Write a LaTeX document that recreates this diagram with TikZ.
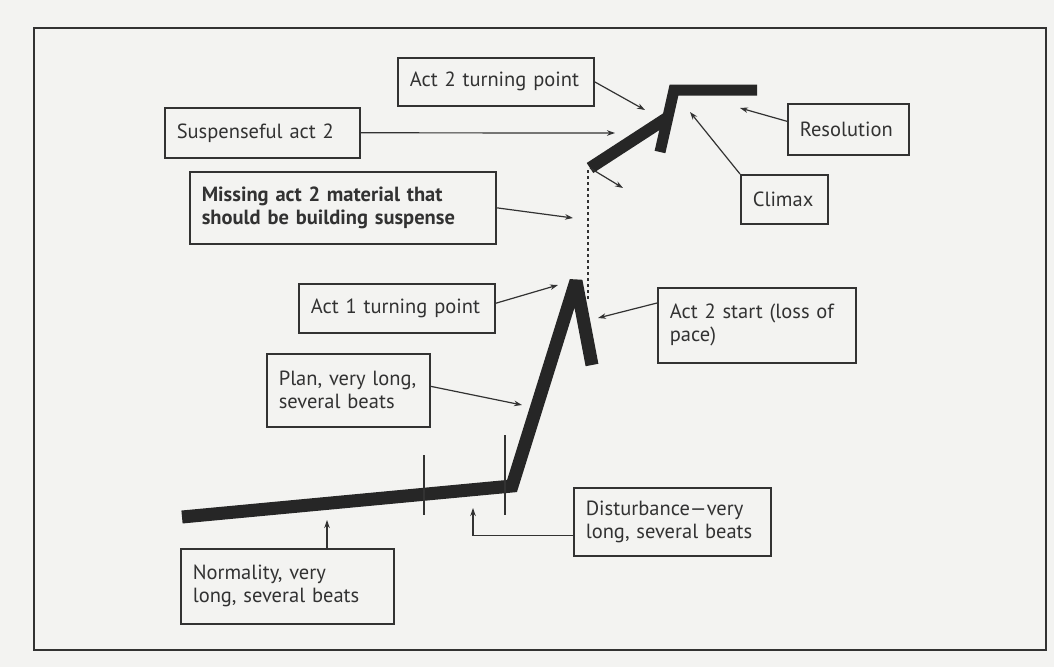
\documentclass[tikz,border=0pt]{standalone}
\usepackage{fontspec}
\setmainfont{PT Sans}
\usepackage{tikz}
\usetikzlibrary{arrows.meta,calc}

\definecolor{paper}{RGB}{243,243,241}
\definecolor{ink}{RGB}{50,50,50}

\begin{document}
\begin{tikzpicture}[x=1pt,y=-1pt,
  every node/.style={font=\fontsize{20.5}{23}\selectfont,text=ink},
  box/.style={draw=ink,line width=1.6pt,anchor=north west,align=left,inner xsep=12pt,inner ysep=0pt},
  lead/.style={draw=ink,line width=1.2pt,-{Stealth[length=8pt,width=5.5pt]}},
  plot/.style={draw=black!85,line cap=butt}]
  \useasboundingbox[fill=paper] (0,0) rectangle (1054,667);
  % outer frame
  \draw[ink,line width=2pt] (34,28) rectangle (1046,650);
  % the pace line
  \coordinate (n0) at (182,517);
  \coordinate (n1) at (512,486);
  \coordinate (pk) at (576,281);
  \coordinate (sag) at (592,365);
  \coordinate (up0) at (590,168);
  \coordinate (up1) at (667,118);
  \coordinate (dip) at (660,152);
  \coordinate (top) at (674,90);
  \coordinate (fin) at (757,90);
  \draw[plot,line width=13pt,line join=miter,miter limit=2] (n0) -- (n1) -- (pk) -- (sag);
  \draw[plot,line width=12pt] (up0) -- (up1);
  \draw[plot,line width=11pt,line join=miter] (dip) -- (top) -- (fin);
  % beat ticks and the gap
  \draw[ink,line width=1.2pt] (424,455) -- (424,515);
  \draw[ink,line width=1.2pt] (505,435) -- (505,515);
  \draw[ink,line width=1.3pt,dash pattern=on 3pt off 3pt] (588,170) -- (588,300);
  % labels
  \node[box,text width=172pt,minimum height=48pt] (tpB) at (397,57) {Act 2 turning point};
  \node[box,text width=171pt,minimum height=50pt] (susp) at (164,107) {Suspenseful act 2};
  \node[box,text width=282pt,minimum height=72pt,font=\fontsize{20.5}{23}\selectfont\bfseries] (miss) at (189,171)
    {Missing act 2 material that\\should be building suspense};
  \node[box,text width=97pt,minimum height=51pt] (reso) at (787,103) {Resolution};
  \node[box,text width=63pt,minimum height=49pt] (clim) at (740,174) {Climax};
  \node[box,text width=172pt,minimum height=49pt] (tpA) at (298,283) {Act 1 turning point};
  \node[box,text width=174pt,minimum height=75pt] (startB) at (657,287) {Act 2 start (loss of\\pace)};
  \node[box,text width=139pt,minimum height=73pt] (plan) at (266,353) {Plan, very long,\\several beats};
  \node[box,text width=173pt,minimum height=68pt] (dist) at (573,487) {Disturbance---very\\long, several beats};
  \node[box,text width=189pt,minimum height=75pt] (norm) at (180,548) {Normality, very\\long, several beats};
  % arrow targets
  \coordinate (tpBpt) at (645,110);
  \coordinate (susppt) at (615,133);
  \coordinate (misspt) at (573,218);
  \coordinate (resopt) at (740,108);
  \coordinate (climpt) at (690,112);
  \coordinate (tpApt) at (558,285);
  \coordinate (startBpt) at (598,318);
  \coordinate (planpt) at (522,405);
  \coordinate (normpt) at (327,520);
  \coordinate (distpt) at (473,508);
  \coordinate (droppt) at (623,188);
  % leaders
  \draw[lead] (tpB.east) -- (tpBpt);
  \draw[lead] (susp.east) -- (susppt);
  \draw[lead] (miss.east) -- (misspt);
  \draw[lead] ([yshift=8pt]reso.west) -- (resopt);
  \draw[lead] (clim.north west) -- (climpt);
  \draw[lead] ([yshift=5pt]tpA.east) -- (tpApt);
  \draw[lead] ([yshift=-16pt]startB.north west) -- (startBpt);
  \draw[lead] ([yshift=4pt]plan.east) -- (planpt);
  \draw[lead] (norm.north -| normpt) -- (normpt);
  \draw[lead] ([yshift=-14pt]dist.west) -| (distpt);
  \draw[lead] (up0) -- (droppt);
\end{tikzpicture}
\end{document}
